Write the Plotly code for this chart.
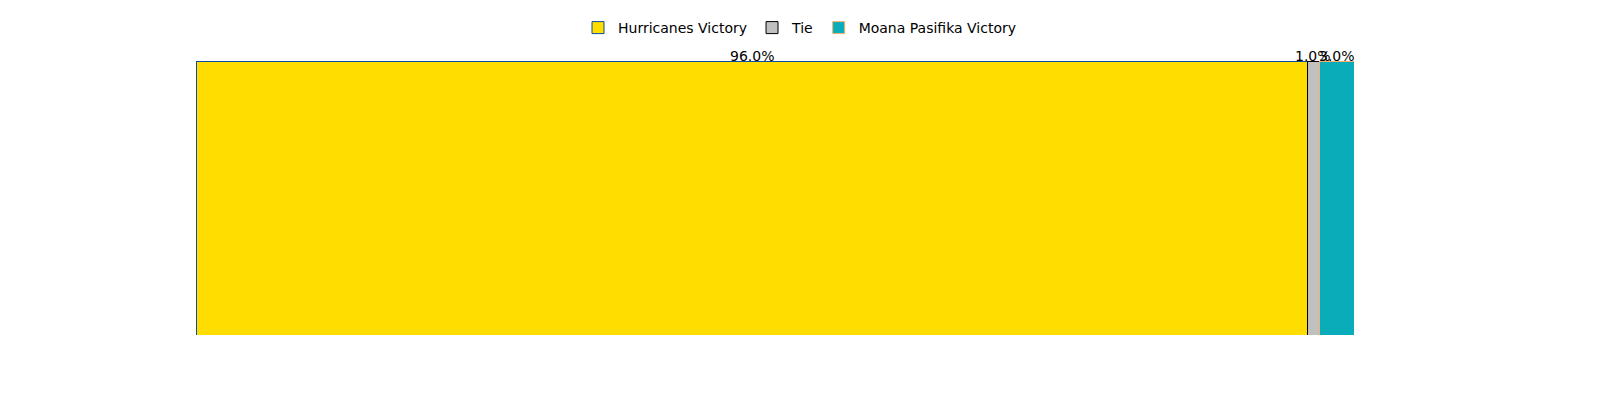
import plotly.graph_objects as go

# outcome shares (percent)
outcomes = ["Hurricanes Victory", "Tie", "Moana Pasifika Victory"]
shares = [96.0, 1.0, 3.0]
fill_colors = ["#FFDD00", "#C0C0C0", "#0AACBA"]
edge_colors = ["#0B4DA2", "#000000", "#F5B06E"]

fig = go.Figure()
for name, val, fc, ec in zip(outcomes, shares, fill_colors, edge_colors):
    fig.add_trace(go.Bar(
        x=[val], y=[0], name=name, orientation="h",
        width=1,
        marker=dict(color=fc, line=dict(color=ec, width=1)),
        hoverinfo="name+x",
    ))

# percentage labels above each segment
annotations = []
left = 0
for val in shares:
    annotations.append(dict(
        x=left + val / 2, y=1, xref="x", yref="paper",
        xanchor="center", yanchor="bottom",
        text=f"{val:.1f}%", showarrow=False,
        font=dict(size=14, color="black"), yshift=-5,
    ))
    left += val

fig.update_layout(
    barmode="stack",
    margin=dict(l=196, r=246, t=61, b=65),
    plot_bgcolor="white", paper_bgcolor="white",
    font=dict(family="DejaVu Sans", size=14, color="black"),
    xaxis=dict(range=[0, 100], visible=False),
    yaxis=dict(range=[-0.5, 0.5], visible=False),
    showlegend=True,
    legend=dict(orientation="h", xref="container", yref="container",
                x=0.5, xanchor="center", y=0.93, yanchor="middle",
                font=dict(size=14), traceorder="normal"),
    annotations=annotations,
)

# fill the 1600x400 window exactly, no page margin or scrollbars
css = ("document.documentElement.style.margin='0';"
       "document.documentElement.style.overflow='hidden';"
       "document.body.style.margin='0';"
       "document.body.style.overflow='hidden';")
fig.write_html("out.html", default_width="100vw", default_height="100vh",
               config={"displayModeBar": False}, post_script=css)
